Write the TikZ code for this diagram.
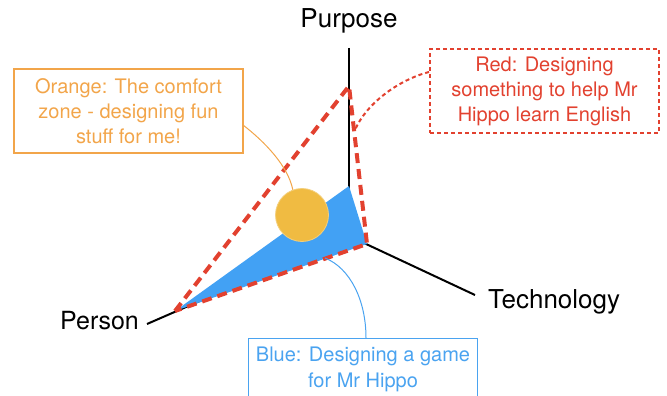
\documentclass[tikz,border=0pt]{standalone}
\usepackage{fontspec}
\setmainfont{TeX Gyre Heros}
\definecolor{orangetxt}{HTML}{F2A54A}
\definecolor{orangecirc}{HTML}{F0BB42}
\definecolor{redline}{HTML}{E2412F}
\definecolor{bluefill}{HTML}{42A1F4}
\definecolor{bluetxt}{HTML}{4AA3F0}
\tikzset{
  axis/.style={line width=2pt, black},
  biglabel/.style={font=\fontsize{26}{30}\selectfont, inner sep=0pt},
  notebox/.style={font=\fontsize{20}{25}\selectfont, align=center, minimum width=229pt, minimum height=84pt, inner sep=0pt},
}
\begin{document}
\begin{tikzpicture}[x=1pt,y=-1pt]
\useasboundingbox (0,0) rectangle (667,396);
% axes
\coordinate (O) at (349,236);
\coordinate (Pend) at (349,48);
\coordinate (Tend) at (475,295);
\coordinate (Hend) at (147,324);
\draw[axis] (Pend) -- (O);
\draw[axis] (O) -- (Tend);
\draw[axis] (O) -- (Hend);
% labels
\node[biglabel, anchor=base] (purpose) at (349,28) {Purpose};
\node[biglabel, anchor=base west] (tech) at (488,308) {Technology};
\node[biglabel, font=\fontsize{25}{30}\selectfont, anchor=base east] (person) at (139,329) {Person};
% triangle vertices
\coordinate (Pv) at (175,311);
\coordinate (Bv) at (349,186);
\coordinate (Rv) at (349,86);
\coordinate (Tv) at (367,244);
\fill[bluefill] (Pv) -- (Bv) -- (Tv) -- cycle;
\node[circle, fill=orangecirc, draw=orangecirc!70!white, line width=0.8pt, minimum size=53pt, inner sep=0pt] (circ) at (302,215) {};
\draw[redline, line width=4pt, dash pattern=on 10pt off 6pt] (Pv) -- (Rv) -- (Tv) -- cycle;
% boxes
\node[notebox, draw=orangetxt, text=orangetxt, line width=1.2pt] (obox) at (128.5,111) {Orange: The comfort\\zone - designing fun\\stuff for me!};
\node[notebox, draw=redline, text=redline, line width=2pt, dash pattern=on 4pt off 3pt] (rbox) at (544.5,91) {Red: Designing\\something to help Mr\\Hippo learn English};
\node[notebox, draw=bluetxt, text=bluetxt, line width=1.2pt, anchor=north, text depth=0pt] (bbox) at (363,338) {};
\node[font=\fontsize{20}{26}\selectfont, text=bluetxt, align=center, anchor=north, inner sep=0pt] (btxt) at (363,347) {Blue: Designing a game\\for Mr Hippo};
% connectors
\coordinate (oc) at (243,125);
\draw[orangetxt, line width=1pt] (oc) .. controls (265,142) and (288,166) .. (circ.110);
\coordinate (rc) at (355,130);
\draw[redline, line width=2pt, dash pattern=on 4pt off 3pt] (rbox.west |- 0,72) .. controls (398,80) and (366,104) .. (rc);
\coordinate (bc) at (325,258);
\draw[bluetxt, line width=1pt] (bc) .. controls (350,268) and (366,300) .. (bbox.north -| 366,0);
\end{tikzpicture}
\end{document}
